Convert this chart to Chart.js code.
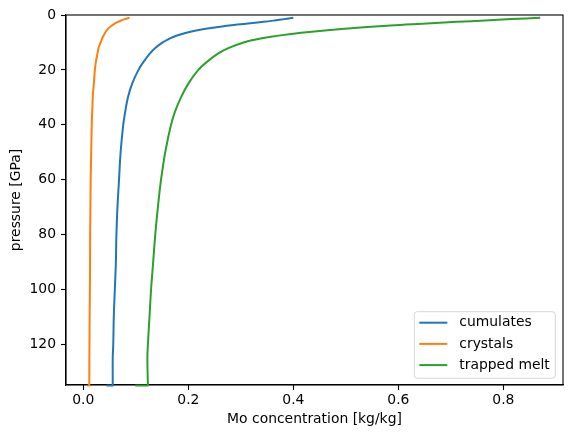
<!DOCTYPE html>
<html>
<head>
<meta charset="utf-8">
<script src="https://cdn.jsdelivr.net/npm/chart.js@4/dist/chart.umd.min.js"></script>
<style>
  html, body { margin: 0; padding: 0; background: #fff; }
  #wrap { width: 571px; height: 438px; position: relative; }
</style>
</head>
<body>
<div id="wrap"><canvas id="c" width="571" height="438"></canvas></div>
<script>
// ---- data ----
const pressure = [1, 1.5, 2, 2.5, 3, 3.5, 4, 5, 6, 7, 8, 9, 10, 12, 14, 17, 20, 25, 30, 35, 40, 50, 60, 70, 80, 90, 100, 110, 120, 125, 134.9, 135, 135];
const cumulates = [0.400, 0.383, 0.364, 0.343, 0.318, 0.293, 0.270, 0.233, 0.206, 0.186, 0.171, 0.160, 0.151, 0.137, 0.127, 0.115, 0.105, 0.093, 0.085, 0.080, 0.076, 0.071, 0.068, 0.065, 0.063, 0.062, 0.060, 0.058, 0.057, 0.056, 0.056, 0.056, 0.044];
const crystals = [0.088, 0.079, 0.072, 0.066, 0.061, 0.057, 0.053, 0.047, 0.043, 0.040, 0.037, 0.035, 0.033, 0.029, 0.027, 0.024, 0.022, 0.020, 0.018, 0.017, 0.016, 0.015, 0.014, 0.0135, 0.013, 0.0128, 0.0125, 0.012, 0.0117, 0.0115, 0.0114, 0.0114, 0.008];
const trappedMelt = [0.870, 0.815, 0.765, 0.712, 0.662, 0.614, 0.570, 0.498, 0.440, 0.392, 0.354, 0.326, 0.305, 0.277, 0.257, 0.236, 0.219, 0.200, 0.186, 0.175, 0.167, 0.156, 0.148, 0.142, 0.137, 0.133, 0.129, 0.126, 0.123, 0.122, 0.123, 0.123, 0.099];
const seriesNames = ['cumulates', 'crystals', 'trapped melt'];
const xTicks = [0.0, 0.2, 0.4, 0.6, 0.8];
const yTicks = [0, 20, 40, 60, 80, 100, 120];
const xLabel = 'Mo concentration [kg/kg]';
const yLabel = 'pressure [GPa]';

const colors = ['#1f77b4', '#ff7f0e', '#2ca02c'];
const FONT = 'DejaVu Sans';
const FS = 13.9;

function toPts(vals) { return vals.map((v, i) => ({ x: v, y: pressure[i] })); }
const seriesVals = [cumulates, crystals, trappedMelt];

const datasets = seriesVals.map((vals, i) => ({
  label: seriesNames[i],
  data: toPts(vals),
  showLine: true,
  borderColor: colors[i],
  backgroundColor: colors[i],
  borderWidth: 2,
  pointRadius: 0,
  pointHoverRadius: 0,
  tension: 0.4,
  clip: 4,
  fill: false
}));

const frameAndLegend = {
  id: 'frameAndLegend',
  beforeDatasetsDraw(chart) {
    const ctx = chart.ctx;
    const ca = chart.chartArea;
    ctx.save();
    ctx.strokeStyle = '#000';
    ctx.lineWidth = 1.1;
    ctx.strokeRect(ca.left, ca.top, ca.right - ca.left, ca.bottom - ca.top);
    ctx.restore();
  },
  afterDatasetsDraw(chart) {
    const ctx = chart.ctx;
    const ca = chart.chartArea;
    ctx.save();
    const bw = 141, bh = 66.6;
    const bx = ca.right - 7.7 - bw;
    const by = ca.bottom - 6.7 - bh;
    const r = 3;
    ctx.beginPath();
    ctx.moveTo(bx + r, by);
    ctx.lineTo(bx + bw - r, by);
    ctx.arcTo(bx + bw, by, bx + bw, by + r, r);
    ctx.lineTo(bx + bw, by + bh - r);
    ctx.arcTo(bx + bw, by + bh, bx + bw - r, by + bh, r);
    ctx.lineTo(bx + r, by + bh);
    ctx.arcTo(bx, by + bh, bx, by + bh - r, r);
    ctx.lineTo(bx, by + r);
    ctx.arcTo(bx, by, bx + r, by, r);
    ctx.closePath();
    ctx.fillStyle = 'rgba(255,255,255,0.8)';
    ctx.fill();
    ctx.strokeStyle = 'rgba(204,204,204,0.8)';
    ctx.lineWidth = 1;
    ctx.stroke();
    ctx.font = FS + 'px "' + FONT + '"';
    ctx.textBaseline = 'middle';
    ctx.textAlign = 'left';
    chart.data.datasets.forEach((ds, i) => {
      const yy = by + 11 + i * 21.2;
      ctx.beginPath();
      ctx.strokeStyle = ds.borderColor;
      ctx.lineWidth = 2;
      ctx.moveTo(bx + 5, yy);
      ctx.lineTo(bx + 33, yy);
      ctx.stroke();
      ctx.fillStyle = '#000';
      ctx.fillText(ds.label, bx + 45, yy);
    });
    ctx.restore();
  }
};

new Chart(document.getElementById('c'), {
  type: 'scatter',
  data: { datasets },
  plugins: [frameAndLegend],
  options: {
    responsive: false,
    animation: false,
    events: [],
    layout: { padding: { left: 0, right: 8, top: 15, bottom: 0 } },
    plugins: { legend: { display: false }, tooltip: { enabled: false } },
    scales: {
      x: {
        type: 'linear',
        position: 'bottom',
        min: -0.033,
        max: 0.9135,
        afterFit(s) { s.height = 53; },
        afterBuildTicks(s) { s.ticks = xTicks.map(v => ({ value: v })); },
        grid: { z: -1, drawOnChartArea: false, drawTicks: true, tickLength: 5, tickColor: '#000', tickWidth: 1.1 },
        border: { display: true, color: '#000', width: 1.1 },
        ticks: {
          color: '#000', padding: 2, maxRotation: 0, autoSkip: false,
          font: { family: FONT, size: FS },
          callback: v => Number(v).toFixed(1)
        },
        title: { display: true, text: xLabel, color: '#000', font: { family: FONT, size: FS }, padding: { top: 0, bottom: 9.8 } }
      },
      y: {
        type: 'linear',
        position: 'left',
        reverse: true,
        min: 0,
        max: 134.8,
        afterFit(s) { s.width = 66; },
        afterBuildTicks(s) { s.ticks = yTicks.map(v => ({ value: v })); },
        grid: { z: -1, drawOnChartArea: false, drawTicks: true, tickLength: 5, tickColor: '#000', tickWidth: 1.1 },
        border: { display: true, color: '#000', width: 1.1 },
        ticks: {
          color: '#000', padding: 5, autoSkip: false,
          font: { family: FONT, size: FS },
          callback: v => String(v)
        },
        title: { display: true, text: yLabel, color: '#000', font: { family: FONT, size: FS }, padding: { top: 8.2, bottom: 0 } }
      }
    }
  }
});
</script>
</body>
</html>
